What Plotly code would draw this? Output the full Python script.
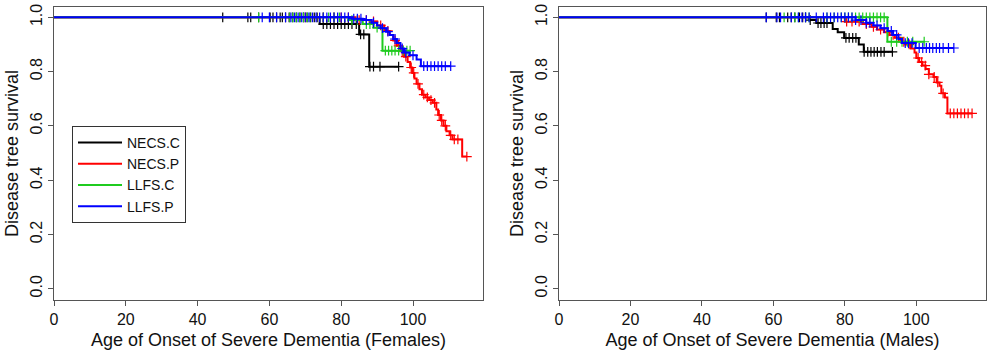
import plotly.graph_objects as go
from plotly.subplots import make_subplots

# ---------------- DATA ----------------
series_names = ["NECS.C", "NECS.P", "LLFS.C", "LLFS.P"]
series_colors = ["#000000", "#FF0000", "#1FCB1F", "#0000FF"]
x_ticks = [0, 20, 40, 60, 80, 100]
y_ticks = [0.0, 0.2, 0.4, 0.6, 0.8, 1.0]
y_tick_labels = ["0.0", "0.2", "0.4", "0.6", "0.8", "1.0"]

# Females
f_necs_c_t = [74, 85, 87.8]
f_necs_c_s = [0.975, 0.937, 0.818]
f_necs_c_end = 96
f_necs_c_cens = [47, 54, 54.8, 57, 60.2, 61, 62, 63, 63.6, 64.5, 65.5, 66.5, 67.5, 68.5, 69.5,
                 70.5, 71.5, 72.5, 73.3, 75, 76, 77, 78, 79, 80, 81, 82, 83, 84.2, 85.4, 86.3,
                 88, 89, 90.8, 96]

f_necs_p_t = [84, 88, 90, 92, 93.5, 94.5, 95.5, 96.5, 97.5, 98.5, 99.2, 99.8, 100.4, 101,
              101.8, 102.5, 103.5, 104.5, 105.5, 106.5, 107, 107.8, 108.5, 109.3, 110.2, 111, 113.7]
f_necs_p_s = [0.99, 0.985, 0.97, 0.95, 0.935, 0.915, 0.895, 0.875, 0.855, 0.835, 0.815, 0.795,
              0.775, 0.755, 0.735, 0.715, 0.705, 0.695, 0.685, 0.66, 0.64, 0.62, 0.6, 0.58,
              0.565, 0.55, 0.487]
f_necs_p_end = 115
f_necs_p_cens = [70, 75, 78, 80, 82, 85, 87, 89, 91, 93, 95, 96, 97, 98, 99.5, 100.2, 101.4,
                 103, 104, 105, 106, 107.3, 108, 109, 110.5, 111.5, 112.5, 115]

f_llfs_c_t = [82, 86, 89, 91.5]
f_llfs_c_s = [0.99, 0.975, 0.962, 0.877]
f_llfs_c_end = 99.2
f_llfs_c_cens = [57, 65.7, 66.5, 67.5, 68.5, 69.5, 70.5, 71.3, 75, 76.5, 78, 79.5, 83, 84.5,
                 87, 88, 90, 92.3, 93.2, 94.1, 95, 96, 97.3, 98.3, 99.2]

f_llfs_p_t = [83, 86, 88.5, 90, 91, 92.5, 93.5, 94.5, 95.5, 96.5, 97.5, 99, 101, 102.2]
f_llfs_p_s = [0.995, 0.99, 0.98, 0.97, 0.96, 0.947, 0.935, 0.92, 0.905, 0.885, 0.87, 0.86,
              0.845, 0.82]
f_llfs_p_end = 110.5
f_llfs_p_cens = [58, 60, 62, 64.5, 66, 67, 68, 69, 70, 71, 72, 73, 74, 75, 76, 77, 78, 79, 80,
                 81, 82, 83.5, 84.5, 85.5, 87, 89, 91.5, 93, 95, 97, 98, 100, 103, 104, 105,
                 106, 107, 108, 109, 110.5]

# Males
m_necs_c_t = [70, 72, 76.6, 78, 79.8, 83.9, 85.3]
m_necs_c_s = [0.99, 0.979, 0.957, 0.945, 0.924, 0.9, 0.873]
m_necs_c_end = 93.5
m_necs_c_cens = [58, 60.8, 61.7, 64, 65, 66, 67.3, 68.2, 69, 70.3, 72.5, 73.3, 74.2, 75,
                 80.3, 81.2, 82.2, 83.1, 85.4, 86.4, 87.3, 88.2, 89.1, 90.1, 91, 93.3]

m_necs_p_t = [80, 85, 87.5, 89, 91, 92.5, 94, 95.5, 97, 98.5, 99.5, 100, 100.8, 101.7, 102.6,
              103.5, 104.8, 105.7, 106.5, 107, 108, 108.7]
m_necs_p_s = [0.984, 0.975, 0.965, 0.955, 0.945, 0.935, 0.925, 0.91, 0.9, 0.885, 0.87, 0.85,
              0.835, 0.822, 0.81, 0.79, 0.78, 0.76, 0.748, 0.72, 0.705, 0.646]
m_necs_p_end = 115.6
m_necs_p_cens = [80.5, 82, 84, 86, 88, 90, 92, 93.5, 95, 96.5, 98, 100.5, 101.5, 102.5, 103.5,
                 105, 106, 107.5, 109.5, 110.5, 111.5, 112.5, 113.5, 114.5, 115.6]

m_llfs_c_t = [91.9]
m_llfs_c_s = [0.91]
m_llfs_c_end = 102.2
m_llfs_c_cens = [63, 66, 67, 69, 70, 75, 77, 79, 80, 81, 82, 83, 84, 85, 86, 87, 88, 89, 90,
                 91, 93, 94.5, 96, 97.5, 99, 102.2]

m_llfs_p_t = [83, 86, 88, 90, 92, 93.5, 95, 96, 99.8]
m_llfs_p_s = [0.99, 0.98, 0.97, 0.96, 0.95, 0.935, 0.92, 0.905, 0.887]
m_llfs_p_end = 110.5
m_llfs_p_cens = [58, 61, 62, 65, 67, 68, 69, 70, 72, 74, 75, 76, 77, 78, 79, 80, 81, 82, 83,
                 84.5, 86, 87, 89, 91, 93, 94.5, 96.9, 97.8, 98.8, 100.8, 101.8, 102.8, 103.7,
                 104.6, 105.6, 106.5, 107.5, 109, 110.5]

females = [
    (f_necs_c_t, f_necs_c_s, f_necs_c_end, f_necs_c_cens),
    (f_necs_p_t, f_necs_p_s, f_necs_p_end, f_necs_p_cens),
    (f_llfs_c_t, f_llfs_c_s, f_llfs_c_end, f_llfs_c_cens),
    (f_llfs_p_t, f_llfs_p_s, f_llfs_p_end, f_llfs_p_cens),
]
males = [
    (m_necs_c_t, m_necs_c_s, m_necs_c_end, m_necs_c_cens),
    (m_necs_p_t, m_necs_p_s, m_necs_p_end, m_necs_p_cens),
    (m_llfs_c_t, m_llfs_c_s, m_llfs_c_end, m_llfs_c_cens),
    (m_llfs_p_t, m_llfs_p_s, m_llfs_p_end, m_llfs_p_cens),
]
x_titles = ["Age of Onset of Severe Dementia (Females)", "Age of Onset of Severe Dementia (Males)"]
y_title = "Disease tree survival"


def surv_at(times, surv, t):
    s = 1.0
    for ti, si in zip(times, surv):
        if ti <= t:
            s = si
    return s


FONT = "Liberation Sans, Arial, Helvetica, sans-serif"
fig = make_subplots(rows=1, cols=2)

for col, panel in enumerate([females, males], start=1):
    for i, (t, s, end, cens) in enumerate(panel):
        xs = [0] + list(t) + [end]
        ys = [1.0] + list(s) + [s[-1]]
        fig.add_trace(go.Scatter(
            x=xs, y=ys, mode="lines", line=dict(color=series_colors[i], width=2, shape="hv"),
            name=series_names[i], showlegend=(col == 1), legendgroup=series_names[i],
        ), row=1, col=col)
        fig.add_trace(go.Scatter(
            x=cens, y=[surv_at(t, s, c) for c in cens], mode="markers",
            marker=dict(symbol="cross-thin", size=7, color=series_colors[i],
                        line=dict(color=series_colors[i], width=1.2)),
            showlegend=False, legendgroup=series_names[i], hoverinfo="skip",
        ), row=1, col=col)

axis_common = dict(showline=True, mirror=True, linecolor="#555", linewidth=1,
                   ticks="outside", ticklen=5, tickcolor="#555", showgrid=False,
                   zeroline=False, automargin=False,
                   tickfont=dict(family=FONT, size=16, color="#111"))

x_domains = [[54 / 993, 483 / 993], [559 / 993, 986 / 993]]
for col in (1, 2):
    xa = "xaxis" if col == 1 else "xaxis2"
    ya = "yaxis" if col == 1 else "yaxis2"
    fig.layout[xa].update(dict(axis_common, range=[0, 119.5], tickvals=x_ticks,
                               domain=x_domains[col - 1],
                               title=dict(text=x_titles[col - 1], standoff=6,
                                          font=dict(family=FONT, size=18, color="#111"))))
    fig.layout[ya].update(dict(axis_common, range=[-0.0416, 1.038], tickvals=y_ticks,
                               ticktext=y_tick_labels, tickangle=-90,
                               domain=[1 - 300 / 356, 1 - 7 / 356],
                               title=dict(text=y_title, standoff=4,
                                          font=dict(family=FONT, size=18, color="#111"))))

fig.update_layout(
    width=993, height=356, margin=dict(l=0, r=0, t=0, b=0),
    plot_bgcolor="white", paper_bgcolor="white",
    legend=dict(x=72 / 993, y=1 - 126 / 356, xanchor="left", yanchor="top",
                bordercolor="#333", borderwidth=1, bgcolor="white", itemwidth=44,
                font=dict(family=FONT, size=14, color="#111"), tracegroupgap=0),
    showlegend=True,
)

fig.write_html("out.html", config={"displayModeBar": False},
               post_script="document.body.style.margin='0';")
